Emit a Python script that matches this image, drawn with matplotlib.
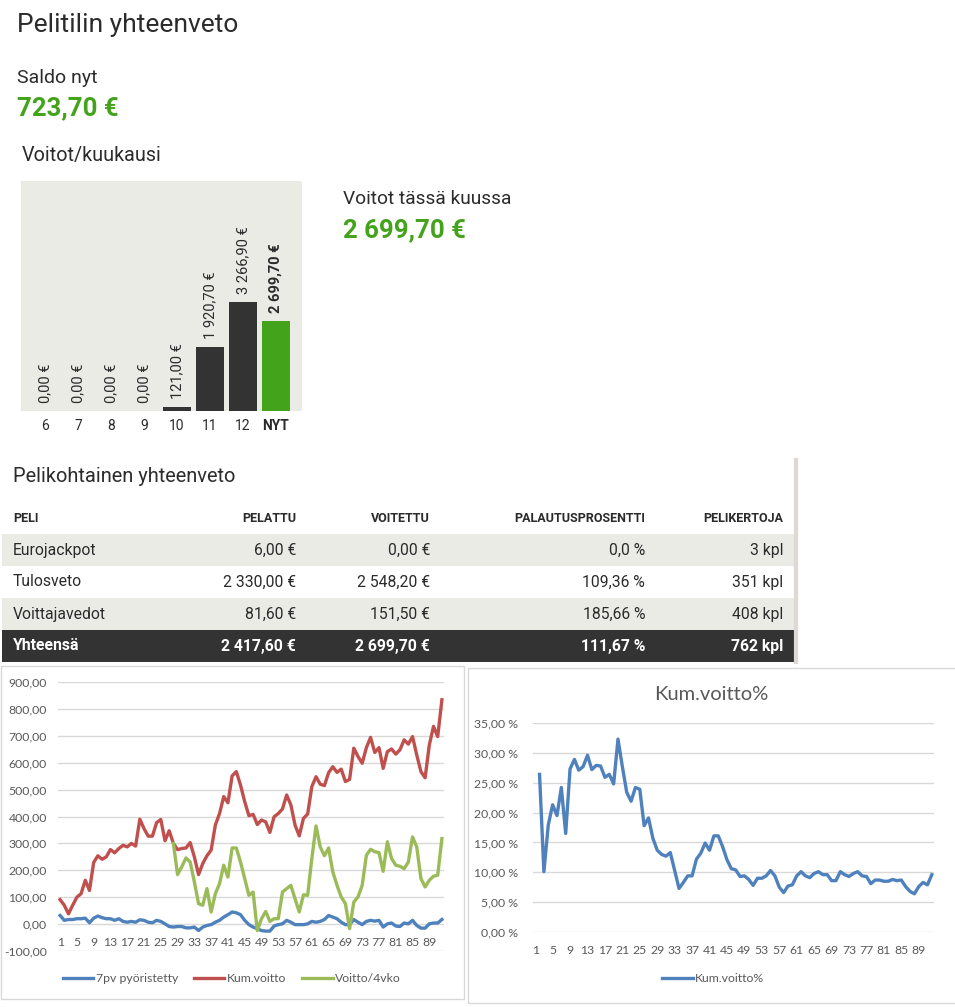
import matplotlib
matplotlib.use("Agg")
import matplotlib.pyplot as plt
from matplotlib.patches import Rectangle

W, H = 955, 1007

# --- data ---
kuukaudet = ["6", "7", "8", "9", "10", "11", "12", "NYT"]
voitot_kk = [0.0, 0.0, 0.0, 0.0, 121.0, 1920.7, 3266.9, 2699.7]

pelit = ["Eurojackpot", "Tulosveto", "Voittajavedot", "Yhteensä"]
pelattu = ["6,00 €", "2 330,00 €", "81,60 €", "2 417,60 €"]
voitettu = ["0,00 €", "2 548,20 €", "151,50 €", "2 699,70 €"]
palautus = ["0,0 %", "109,36 %", "185,66 %", "111,67 %"]
pelikertoja = ["3 kpl", "351 kpl", "408 kpl", "762 kpl"]

paivat = list(range(1, 93))
pv7 = [32, 14, 17, 17, 20, 20, 22, 5, 22, 30, 24, 20, 20, 14, 20, 10, 7, 10, 7, 16,
       14, 7, 5, 14, 10, 1, -9, -11, -9, -9, -14, -14, -11, -24, -11, -5, -2, 7, 14, 26,
       35, 45, 42, 35, 14, -2, -11, -17, -24, -26, -26, -7, -2, 1, 14, 7, -2, -2, -2, 1,
       10, 7, 10, 17, 32, 26, 20, 7, -2, -2, 17, 7, -2, 10, 14, 11, 14, -11, 1, 4,
       -7, -9, 4, 1, 14, -5, -15, -15, 1, 4, 4, 17]
kum_voitto = [91, 70, 38, 70, 100, 113, 163, 125, 229, 254, 241, 250, 277, 265, 281, 293, 287, 300, 290, 390,
              355, 327, 327, 377, 389, 310, 347, 300, 277, 281, 283, 303, 250, 184, 225, 254, 275, 368, 411, 474,
              451, 551, 567, 517, 455, 403, 408, 370, 387, 380, 341, 399, 411, 428, 480, 443, 368, 328, 393, 409,
              511, 548, 520, 515, 563, 585, 564, 576, 530, 538, 654, 623, 598, 656, 694, 638, 656, 579, 641, 651,
              632, 648, 685, 669, 697, 629, 567, 544, 666, 735, 697, 834]
voitto_4vko = [None] * 27 + [
    300, 184, 213, 246, 231, 157, 76, 70, 132, 45, 113, 150, 219, 175, 283, 283, 231, 169, 107, 119,
    -24, 20, 47, 10, 20, 20, 119, 132, 144, 94, 45, 109, 107, 244, 365, 287, 254, 283, 194, 144,
    101, 76, -17, 82, 101, 144, 256, 278, 269, 266, 196, 306, 244, 219, 215, 206, 231, 324, 287, 169,
    138, 163, 178, 182, 318]
kum_voitto_pros = [None, 26.4, 10.1, 17.9, 21.3, 19.5, 24.2, 16.5, 27.3, 28.9, 27.1, 27.7, 29.6, 27.2, 27.9, 27.8,
                   25.9, 26.4, 24.8, 32.3, 27.7, 23.4, 21.9, 24.2, 23.9, 17.8, 19.1, 15.7, 13.7, 13.0, 12.7, 13.3,
                   10.3, 7.3, 8.3, 9.4, 9.4, 12.2, 13.2, 14.9, 13.7, 16.1, 16.1, 14.3, 12.1, 10.6, 10.4, 9.3,
                   9.4, 8.8, 7.8, 9.0, 9.0, 9.4, 10.3, 9.4, 7.5, 6.6, 7.7, 7.9, 9.4, 10.1, 9.4, 9.1,
                   9.8, 10.1, 9.6, 9.6, 8.6, 8.6, 10.1, 9.6, 9.3, 9.8, 10.1, 9.4, 9.3, 8.1, 8.7, 8.7,
                   8.5, 8.5, 8.8, 8.6, 8.7, 7.6, 6.8, 6.4, 7.6, 8.3, 7.9, 9.6]

VIHREA = "#43a31b"
TUMMA = "#333333"
HARMAA = "#ebebe6"
SININEN = "#4f81bd"
PUNAINEN = "#c0504d"
LIME = "#9bbb59"
TEKSTI = "#2b2b2b"
UI = ["Roboto", "DejaVu Sans"]
XL = ["Lato", "DejaVu Sans"]


def px(x, y, w, h):
    # pikselilaatikko -> figuurin koordinaatit
    return [x / W, 1 - (y + h) / H, w / W, h / H]


def nan(v):
    return [float("nan") if a is None else a for a in v]


fig = plt.figure(figsize=(W / 100, H / 100), dpi=100)
fig.patch.set_facecolor("white")

# pohja-akseli pikseleissä tekstejä ja taulukkoa varten
base = fig.add_axes([0, 0, 1, 1], zorder=0)
base.set_xlim(0, W)
base.set_ylim(H, 0)
base.axis("off")

base.text(17, 25, "Pelitilin yhteenveto", fontsize=19, color=TEKSTI, va="center", family=UI)
base.text(17, 78, "Saldo nyt", fontsize=14, color=TEKSTI, va="center", family=UI)
base.text(17, 108, "723,70 €", fontsize=18.5, color=VIHREA, va="center", weight="bold", family=UI)
base.text(22, 155, "Voitot/kuukausi", fontsize=14.2, color=TEKSTI, va="center", family=UI)
base.text(343, 199, "Voitot tässä kuussa", fontsize=13.8, color=TEKSTI, va="center", family=UI)
base.text(343, 230, "2 699,70 €", fontsize=18.5, color=VIHREA, va="center", weight="bold", family=UI)

# --- pelikohtainen taulukko ---
base.text(13, 476, "Pelikohtainen yhteenveto", fontsize=14.4, color=TEKSTI, va="center", family=UI)
sarakkeet = [("PELI", 13, "left"), ("PELATTU", 296, "right"), ("VOITETTU", 430, "right"),
             ("PALAUTUSPROSENTTI", 645, "right"), ("PELIKERTOJA", 783, "right")]
for nimi, x, ha in sarakkeet:
    base.text(x, 518, nimi, fontsize=9, weight="bold", color=TEKSTI, ha=ha, va="center", family=UI)

rivin_korkeus = 32
for i, rivi in enumerate(zip(pelit, pelattu, voitettu, palautus, pelikertoja)):
    y0 = 534 + i * rivin_korkeus
    viimeinen = i == len(pelit) - 1
    if viimeinen:
        tausta = TUMMA
    elif i % 2 == 0:
        tausta = HARMAA
    else:
        tausta = "white"
    base.add_patch(Rectangle((2, y0), 793, rivin_korkeus, color=tausta, lw=0))
    for arvo, (_, x, ha) in zip(rivi, sarakkeet):
        base.text(x, y0 + rivin_korkeus / 2, arvo, fontsize=11.3, ha=ha, va="center",
                  color="white" if viimeinen else TEKSTI,
                  weight="bold" if viimeinen else "normal", family=UI)
base.plot([796, 796], [460, 662], color="#dcdad3", lw=3)

# kaavioiden kehykset
base.add_patch(Rectangle((1, 666), 463, 333, fill=False, ec="#d9d9d9", lw=1))
base.add_patch(Rectangle((468, 668), 490, 335, fill=False, ec="#d9d9d9", lw=1))

# --- voitot/kuukausi pylväät ---
axb = fig.add_axes(px(21, 181, 281, 230), zorder=1)
axb.set_facecolor(HARMAA)
xs = list(range(len(kuukaudet)))
varit = [TUMMA] * (len(kuukaudet) - 1) + [VIHREA]
axb.bar(xs, voitot_kk, width=0.85, color=varit)
axb.set_xlim(-0.73, 7.79)
axb.set_ylim(0, 6900)
for s in axb.spines.values():
    s.set_visible(False)
axb.set_yticks([])
axb.set_xticks(xs)
axb.set_xticklabels(kuukaudet, fontsize=10, color=TEKSTI, family=UI)
axb.tick_params(axis="x", length=0, pad=6)
axb.get_xticklabels()[-1].set_weight("bold")
for x, v in zip(xs, voitot_kk):
    teksti = f"{v:,.2f}".replace(",", " ").replace(".", ",") + " €"
    axb.annotate(teksti, (x, v), xytext=(0, 6), textcoords="offset points", rotation=90,
                 ha="center", va="bottom", fontsize=10.5, color=TEKSTI, family=UI,
                 weight="bold" if x == xs[-1] else "normal")

# --- vasen viivakaavio ---
axl = fig.add_axes(px(58, 682, 386, 269), zorder=1)
axl.set_facecolor("none")
axl.plot(paivat, pv7, color=SININEN, lw=2.4, label="7pv pyöristetty")
axl.plot(paivat, kum_voitto, color=PUNAINEN, lw=2.4, label="Kum.voitto")
axl.plot(paivat, nan(voitto_4vko), color=LIME, lw=2.4, label="Voitto/4vko")
axl.set_xlim(0.5, 92.5)
axl.set_ylim(-100, 900)
yt = list(range(-100, 901, 100))
axl.set_yticks(yt)
axl.set_yticklabels([f"{v:.2f}".replace(".", ",") for v in yt], fontsize=8.8, color="#595959", family=XL)
axl.grid(axis="y", color="#d9d9d9", lw=1)
axl.set_axisbelow(True)
for s in axl.spines.values():
    s.set_visible(False)
axl.spines["bottom"].set_position(("data", 0))
axl.set_xticks(paivat[::4])
axl.set_xticklabels([str(p) for p in paivat[::4]], fontsize=8.8, color="#595959", family=XL)
axl.tick_params(length=0)
axl.tick_params(axis="y", pad=8)
axl.tick_params(axis="x", pad=9)
axl.legend(loc="center", bbox_to_anchor=(0.45, -0.104), ncol=3, frameon=False,
           prop={"family": XL, "size": 8.8}, labelcolor="#595959",
           handlelength=2.5, handletextpad=0.2, columnspacing=1.3)

# --- oikea viivakaavio ---
axr = fig.add_axes(px(533, 723, 401, 209), zorder=1)
axr.set_facecolor("none")
axr.plot(paivat, nan(kum_voitto_pros), color=SININEN, lw=2.4, label="Kum.voitto%")
axr.set_xlim(0.5, 92.5)
axr.set_ylim(0, 35)
yt2 = list(range(0, 36, 5))
axr.set_yticks(yt2)
axr.set_yticklabels([f"{v:.2f} %".replace(".", ",") for v in yt2], fontsize=8.8, color="#595959", family=XL)
axr.grid(axis="y", color="#d9d9d9", lw=1)
axr.set_axisbelow(True)
for s in axr.spines.values():
    s.set_visible(False)
axr.set_xticks(paivat[::4])
axr.set_xticklabels([str(p) for p in paivat[::4]], fontsize=8.8, color="#595959", family=XL)
axr.tick_params(length=0)
axr.tick_params(axis="y", pad=11)
axr.tick_params(axis="x", pad=9)
axr.legend(loc="center", bbox_to_anchor=(0.449, -0.223), frameon=False,
           prop={"family": XL, "size": 8.8}, labelcolor="#595959",
           handlelength=2.5, handletextpad=0.2)
base.text(711, 694, "Kum.voitto%", fontsize=14.5, color="#595959", ha="center", va="center", family=XL)

fig.savefig("out.png", dpi=100)
